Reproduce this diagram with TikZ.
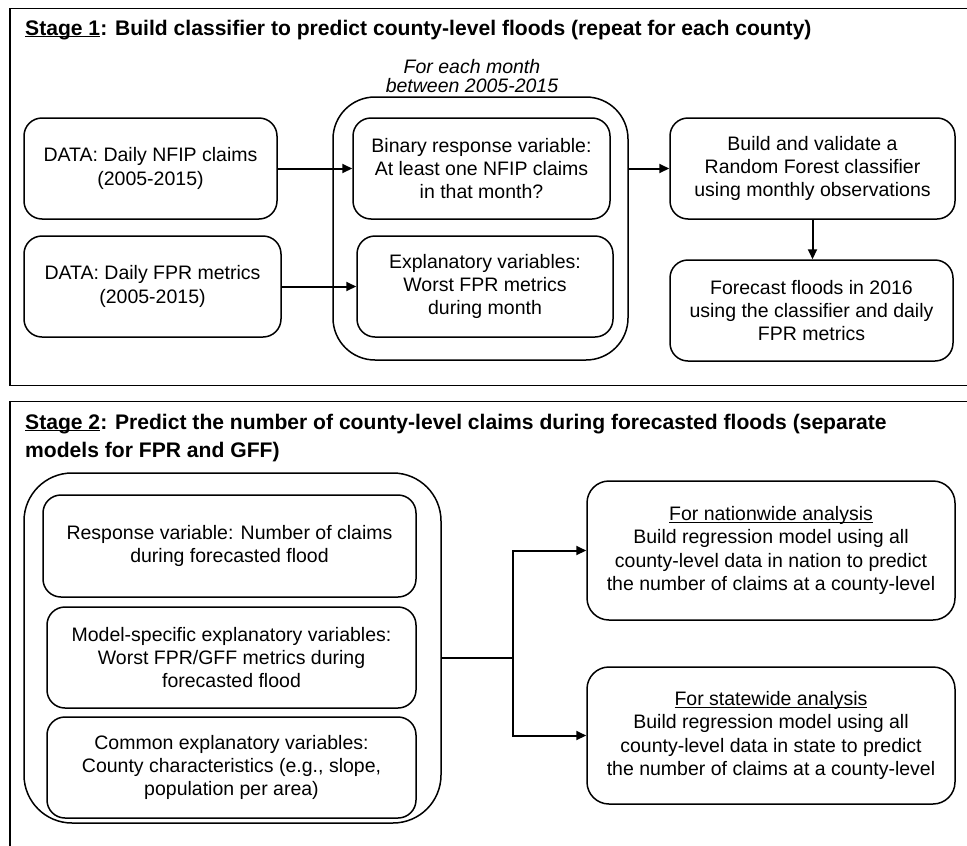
\documentclass[tikz,border=0pt]{standalone}
\usepackage{fontspec}
\setmainfont{Liberation Sans}
\usetikzlibrary{arrows.meta}
\newcommand\bodyfs{\fontsize{19.5}{23.3}\selectfont}
\newcommand\titlefs{\fontsize{21.1}{28}\selectfont\bfseries}
\newcommand\ulnear[1]{\underline{\smash{#1}}\vphantom{#1}}
\begin{document}
\begin{tikzpicture}[x=1pt,y=-1pt,
  box/.style={draw, line width=1.5pt, rounded corners=18pt, align=center, font=\bodyfs, inner sep=0pt},
  bigbox/.style={draw, line width=1.5pt, rounded corners=42pt, inner sep=0pt},
  frame/.style={draw, line width=1.8pt},
  conn/.style={line width=2pt},
  arr/.style={line width=2pt, -{Triangle[length=10pt,width=9pt]}}]
\useasboundingbox (0,0) rectangle (967,846);
\clip (0,0) rectangle (967,846);

% ---------- Stage 1 ----------
\draw[frame] (980,8.5) -- (10,8.5) -- (10,385.5) -- (980,385.5);
\node[anchor=base west, font=\titlefs, inner sep=0pt] (t1) at (25,35)
  {\ulnear{Stage 1}: Build classifier to predict county-level floods (repeat for each county)};

\node[bigbox, minimum width=295, minimum height=263] (c1) at (480.5,228.5) {};
\node[anchor=base, align=center, font=\bodyfs\itshape, inner sep=0pt] (lbl) at (472,92.5)
  {For each month\\[-4.5pt]between 2005-2015};

\node[box, minimum width=253, minimum height=101] (nfip) at (150.5,168.5)
  {DATA: Daily NFIP claims\\(2005-2015)};
\node[box, minimum width=257, minimum height=101] (fpr) at (152.5,286.5)
  {DATA: Daily FPR metrics\\(2005-2015)};
\node[box, minimum width=257, minimum height=101] (bin) at (481.5,168.5)
  {Binary response variable:\\At least one NFIP claims\\in that month?};
\node[box, minimum width=256, minimum height=101] (expl) at (485,286.5)
  {Explanatory variables:\\Worst FPR metrics\\during month};
\node[box, minimum width=285, minimum height=101] (build) at (812.5,168.5)
  {Build and validate a\\Random Forest classifier\\using monthly observations};
\node[box, minimum width=283, minimum height=101] (fc) at (811.5,310.5)
  {Forecast floods in 2016\\using the classifier and daily\\FPR metrics};

\draw[arr] (nfip.east) -- (bin.west);
\draw[arr] (fpr.east) -- (expl.west);
\draw[arr] (c1.east |- build.west) -- (build.west);
\draw[arr] (build.south) -- (build.south |- fc.north);

% ---------- Stage 2 ----------
\draw[frame] (980,401.5) -- (10,401.5) -- (10,860);
\node[anchor=base west, align=left, font=\titlefs, inner sep=0pt] (t2) at (25,457)
  {\ulnear{Stage 2}: Predict the number of county-level claims during forecasted floods (separate\\models for FPR and GFF)};

\node[bigbox, rounded corners=48pt, minimum width=417, minimum height=350] (c2) at (232.5,648) {};
\node[box, minimum width=373, minimum height=102] (resp) at (229.5,546)
  {Response variable: Number of claims\\during forecasted flood};
\node[box, minimum width=369, minimum height=101] (mod) at (231.5,657.5)
  {Model-specific explanatory variables:\\Worst FPR/GFF metrics during\\forecasted flood};
\node[box, minimum width=369, minimum height=101] (com) at (231.5,767.5)
  {Common explanatory variables:\\County characteristics (e.g., slope,\\population per area)};

\node[box, rounded corners=22pt, minimum width=368, minimum height=139] (nat) at (771,550.5)
  {\ulnear{For nationwide analysis}\\Build regression model using all\\county-level data in nation to predict\\the number of claims at a county-level};
\node[box, rounded corners=22pt, minimum width=368, minimum height=137] (sta) at (771,735.5)
  {\ulnear{For statewide analysis}\\Build regression model using all\\county-level data in state to predict\\the number of claims at a county-level};

\coordinate (j) at (513,657.5);
\draw[conn] (c2.east |- mod.east) -- (j);
\draw[arr] (j) |- (nat.west);
\draw[arr] (j) |- (sta.west);
\end{tikzpicture}
\end{document}
